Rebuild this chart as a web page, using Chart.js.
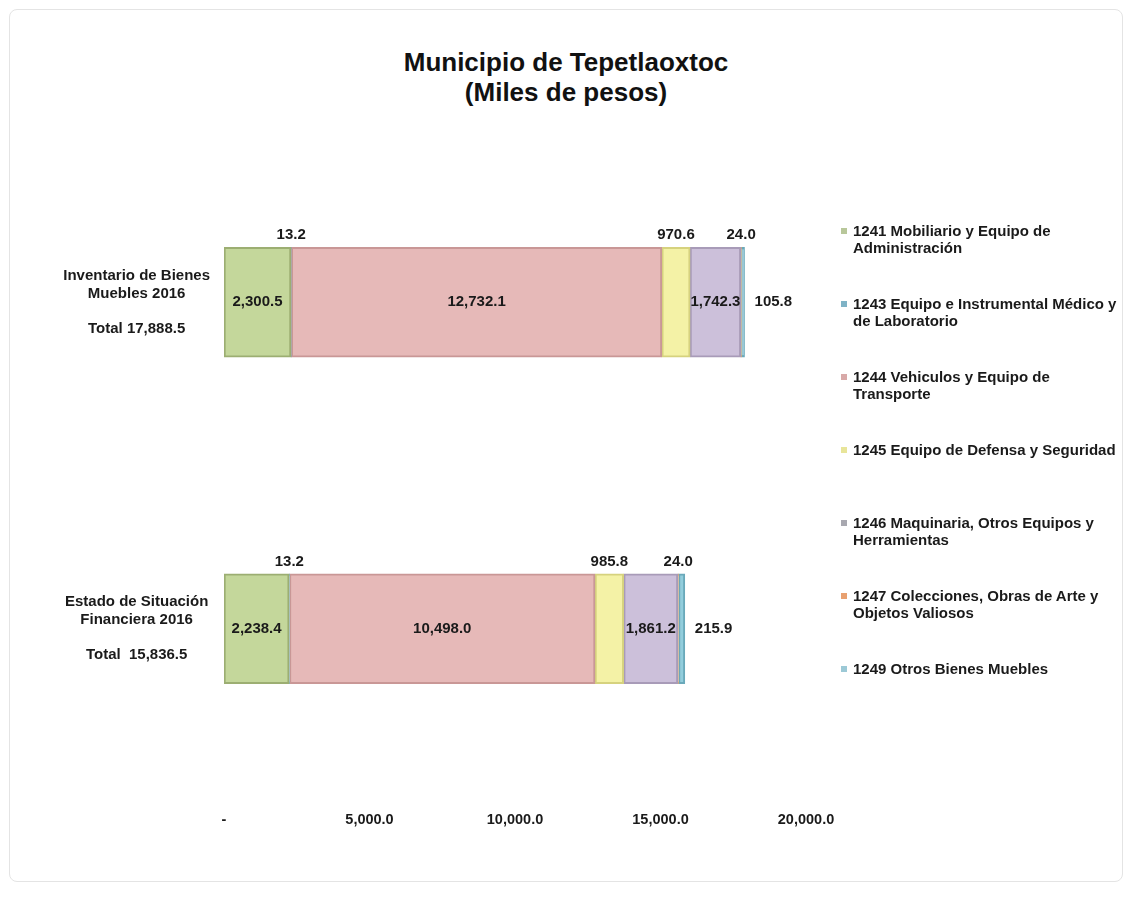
<!DOCTYPE html>
<html>
<head>
<meta charset="utf-8">
<script src="https://cdn.jsdelivr.net/npm/chart.js@4.4.1/dist/chart.umd.min.js"></script>
<style>
  html,body{margin:0;padding:0;background:#fff;}
  body{width:1130px;height:909px;position:relative;overflow:hidden;font-family:"Liberation Sans",Arial,sans-serif;}
  #frame{position:absolute;left:9px;top:9px;width:1112px;height:871px;border:1px solid #e4e4e4;border-radius:8px;}
  #wrap{position:absolute;left:0;top:0;width:1130px;height:909px;}
  #title{position:absolute;left:0;top:47px;width:1132px;text-align:center;font-weight:bold;font-size:26px;line-height:30px;color:#111;}
  #legend{position:absolute;left:841px;top:222px;width:289px;}
  .item{height:73px;position:relative;}
  .sw{position:absolute;left:0;top:6px;width:6px;height:6px;}
  .txt{position:absolute;left:12px;top:0;font-weight:bold;font-size:15px;line-height:17px;color:#1a1a1a;white-space:pre;}
</style>
</head>
<body>
<div id="frame"></div>
<div id="title">Municipio de Tepetlaoxtoc<br>(Miles de pesos)</div>
<div id="wrap"><canvas id="chart" width="1130" height="909"></canvas></div>
<div id="legend"></div>
<script>
// Categories (row names) and totals label
const CATEGORIES = [['Inventario de Bienes','Muebles 2016'], ['Estado de Situación','Financiera 2016']];
const TOTAL_PREFIX = ['Total ', 'Total  '];

// Series names (legend)
const SERIES = [
  '1241 Mobiliario y Equipo de\nAdministración',
  '1243 Equipo e Instrumental Médico y\nde Laboratorio',
  '1244 Vehiculos y Equipo de\nTransporte',
  '1245 Equipo de Defensa y Seguridad',
  '1246 Maquinaria, Otros Equipos y\nHerramientas',
  '1247 Colecciones, Obras de Arte y\nObjetos Valiosos',
  '1249 Otros Bienes Muebles'
];

// values per series: [Inventario, Estado de Situación]
const V1241 = [2300.5, 2238.4];
const V1243 = [13.2, 13.2];
const V1244 = [12732.1, 10498.0];
const V1245 = [970.6, 985.8];
const V1246 = [1742.3, 1861.2];
const V1247 = [24.0, 24.0];
const V1249 = [105.8, 215.9];

const X_TICKS = [0, 5000, 10000, 15000, 20000];

// look
const FILL   = ['#c4d79b','#93cddd','#e6b9b8','#f4f2a6','#ccc0da','#fac090','#92cddc'];
const EDGE   = ['#9cae72','#6fa6b6','#c99796','#d6d27e','#a89bb8','#d89a66','#6aa9ba'];
const SWATCH = ['#b8c79a','#7fb3c6','#d8a9a8','#e8e59a','#a8a8b0','#e8a070','#9cc9d6'];
const LABEL_POS = ['in','above','in','above','in','above','right'];

const VALUES = [V1241, V1243, V1244, V1245, V1246, V1247, V1249];
const fmt = v => v.toLocaleString('en-US',{minimumFractionDigits:1, maximumFractionDigits:1});

const totals = CATEGORIES.map((_, i) => VALUES.reduce((s, arr) => s + arr[i], 0));
const labels = CATEGORIES.map((c, i) => [...c, '', TOTAL_PREFIX[i] + fmt(totals[i])]);

const datasets = SERIES.map((name, k) => ({
  label: name,
  data: VALUES[k],
  backgroundColor: FILL[k],
  borderColor: EDGE[k],
  borderWidth: 2,
  borderSkipped: false,
  barThickness: 110
}));

const FONT = '"Liberation Sans", Arial, sans-serif';

const valueLabels = {
  id: 'valueLabels',
  afterDatasetsDraw(chart) {
    const ctx = chart.ctx;
    ctx.save();
    ctx.font = 'bold 15px ' + FONT;
    ctx.fillStyle = '#1a1a1a';
    ctx.textBaseline = 'middle';
    chart.data.datasets.forEach((ds, k) => {
      const meta = chart.getDatasetMeta(k);
      meta.data.forEach((el, i) => {
        const txt = fmt(ds.data[i]);
        const mid = (el.x + el.base) / 2;
        const top = el.y - el.height / 2;
        if (LABEL_POS[k] === 'in') {
          ctx.textAlign = 'center';
          ctx.fillText(txt, mid, el.y);
        } else if (LABEL_POS[k] === 'above') {
          ctx.textAlign = 'center';
          ctx.fillText(txt, mid, top - 12);
        } else {
          ctx.textAlign = 'left';
          ctx.fillText(txt, Math.max(el.x, el.base) + 10, el.y);
        }
      });
    });
    ctx.restore();
  }
};

const chart = new Chart(document.getElementById('chart'), {
  type: 'bar',
  data: { labels: labels, datasets: datasets },
  options: {
    indexAxis: 'y',
    responsive: false,
    animation: false,
    layout: { padding: { left: 0, right: 324, top: 139, bottom: 0 } },
    plugins: {
      legend: { display: false },
      tooltip: { enabled: false },
      title: { display: false }
    },
    scales: {
      x: {
        stacked: true,
        min: 0, max: 20000,
        grid: { display: false },
        border: { display: false },
        afterBuildTicks: s => { s.ticks = X_TICKS.map(v => ({ value: v })); },
        afterFit: s => { s.height = 117; },
        ticks: {
          padding: 11,
          color: '#1a1a1a',
          font: { family: FONT, size: 14.5, weight: 'bold' },
          callback: v => v === 0 ? '-' : fmt(v)
        }
      },
      y: {
        stacked: true,
        grid: { display: false },
        border: { display: false },
        afterFit: s => { s.width = 224; },
        ticks: {
          crossAlign: 'center',
          padding: 6,
          color: '#1a1a1a',
          font: { family: FONT, size: 15, weight: 'bold', lineHeight: 1.18 }
        }
      }
    }
  },
  plugins: [valueLabels]
});

// html legend built from the chart datasets
const legend = document.getElementById('legend');
chart.data.datasets.forEach((ds, k) => {
  const it = document.createElement('div');
  it.className = 'item';
  it.innerHTML = `<span class="sw" style="background:${SWATCH[k]}"></span><span class="txt"></span>`;
  it.querySelector('.txt').textContent = ds.label;
  legend.appendChild(it);
});
</script>
</body>
</html>
